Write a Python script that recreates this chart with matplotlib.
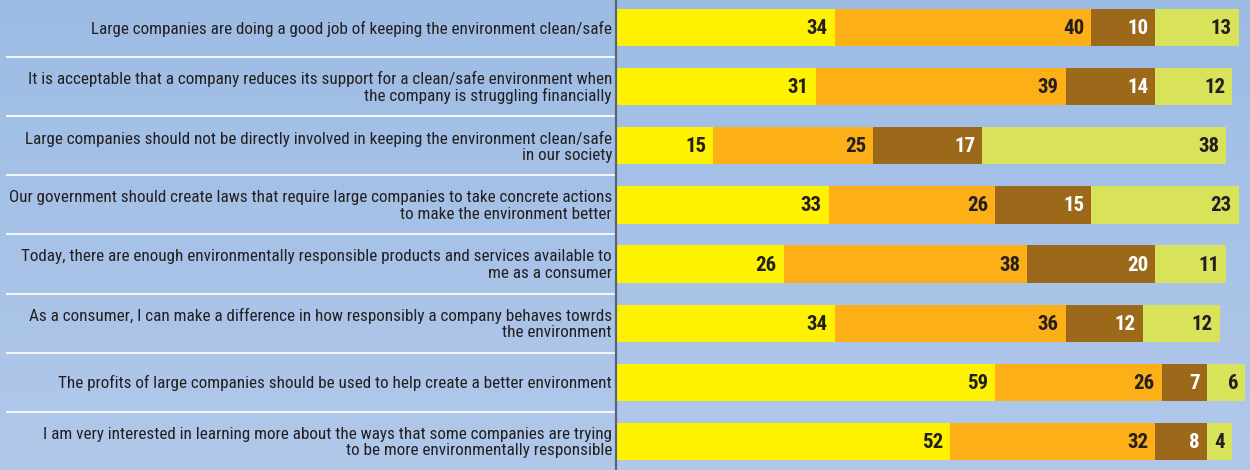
import numpy as np
import matplotlib
matplotlib.use("Agg")
import matplotlib.pyplot as plt
from matplotlib import font_manager as fm

statements = [
    "Large companies are doing a good job of keeping the environment clean/safe",
    "It is acceptable that a company reduces its support for a clean/safe environment when\nthe company is struggling financially",
    "Large companies should not be directly involved in keeping the environment clean/safe\nin our society",
    "Our government should create laws that require large companies to take concrete actions\nto make the environment better",
    "Today, there are enough environmentally responsible products and services available to\nme as a consumer",
    "As a consumer, I can make a difference in how responsibly a company behaves towrds\nthe environment",
    "The profits of large companies should be used to help create a better environment",
    "I am very interested in learning more about the ways that some companies are trying\nto be more environmentally responsible",
]
seg1 = [34, 31, 15, 33, 26, 34, 59, 52]
seg2 = [40, 39, 25, 26, 38, 36, 26, 32]
seg3 = [10, 14, 17, 15, 20, 12, 7, 8]
seg4 = [13, 12, 38, 23, 11, 12, 6, 4]

colors = ["#FFF200", "#FDAF17", "#9C681A", "#D9E35A"]
text_colors = ["#231F20", "#231F20", "#FFFFFF", "#231F20"]

names = {f.name for f in fm.fontManager.ttflist}
family = "DejaVu Sans"
for cand in ["Liberation Sans Narrow", "DejaVu Sans Condensed", "Roboto Condensed", "Open Sans Condensed"]:
    if cand in names:
        family = cand
        break
plt.rcParams["font.family"] = [family, "DejaVu Sans"]

W, H = 1250, 470
fig = plt.figure(figsize=(W / 100, H / 100), dpi=100)

# background gradient
bg = fig.add_axes([0, 0, 1, 1], zorder=0)
grad = np.linspace(0, 1, 256).reshape(-1, 1)
c_top = np.array([0x9D, 0xBC, 0xE4]) / 255
c_bot = np.array([0xB1, 0xC8, 0xEA]) / 255
img = c_top[None, None, :] * (1 - grad[:, :, None]) + c_bot[None, None, :] * grad[:, :, None]
bg.imshow(img, aspect="auto", extent=[0, 1, 0, 1], origin="upper")
bg.set_axis_off()

ax = fig.add_axes([0, 0, 1, 1], zorder=1)
ax.patch.set_alpha(0)
px_per_unit = 6.41
x0 = 617
ax.set_xlim(-x0 / px_per_unit, (W - x0) / px_per_unit)
pitch = 59.14
y_first = 27.5
ax.set_ylim(H, 0)

n = len(statements)
ys = [y_first + i * pitch for i in range(n)]
segs = [seg1, seg2, seg3, seg4]
left = np.zeros(n)
for s, col, tc in zip(segs, colors, text_colors):
    vals = np.array(s, dtype=float)
    ax.barh(ys, vals, left=left, height=0.63 * pitch, color=col, edgecolor="none")
    for y, l, v in zip(ys, left, vals):
        ax.text(l + v - 7 / px_per_unit, y + 1, f"{int(v)}", ha="right", va="center",
                fontsize=15, fontweight="bold", color=tc)
    left += vals

for y, lab in zip(ys, statements):
    ax.text(-5 / px_per_unit, y + 1, lab, ha="right", va="center", fontsize=12.3,
            color="#231F20", linespacing=1.1)

for i in range(n - 1):
    yy = y_first + (i + 0.5) * pitch
    ax.plot([-610 / px_per_unit, -3 / px_per_unit], [yy, yy], color="#F2F6FC", lw=1.5)

ax.axvline(-1 / px_per_unit, color="#5A6478", lw=1.6)
ax.set_axis_off()

fig.savefig("out.png", dpi=100)
